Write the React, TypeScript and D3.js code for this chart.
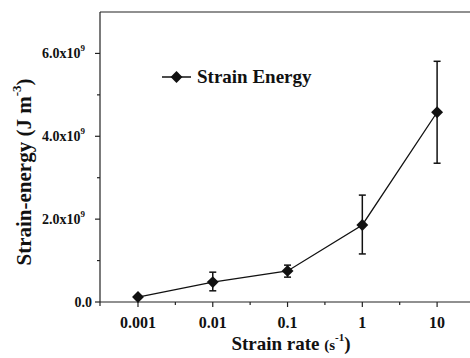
import React, { useEffect, useRef } from 'react';
import * as d3 from 'd3';

const rates = [0.001, 0.01, 0.1, 1, 10];
const energy = [0.12e9, 0.48e9, 0.75e9, 1.86e9, 4.58e9];
const errLow = [0.12e9, 0.27e9, 0.6e9, 1.16e9, 3.35e9];
const errHigh = [0.12e9, 0.72e9, 0.89e9, 2.58e9, 5.81e9];
const xTickLabels = ['0.001', '0.01', '0.1', '1', '10'];
const xMinorTicks = [0.00316, 0.0316, 0.316, 3.16];
const yMajorTicks = [0, 2e9, 4e9, 6e9];
const yMinorTicks = [1e9, 3e9, 5e9];

const FONT = 'Liberation Serif';

export default function App() {
  const svgRef = useRef<SVGSVGElement>(null);

  useEffect(() => {
    const svg = d3.select(svgRef.current);
    svg.selectAll('*').remove();

    const width = 470;
    const height = 358;
    const margin = { top: 12, right: 0, bottom: 56, left: 100 };

    const x = d3.scaleLog()
      .domain([Math.pow(10, -3.508), Math.pow(10, 1.44)])
      .range([margin.left, width - margin.right]);
    const y = d3.scaleLinear()
      .domain([0, 7e9])
      .range([height - margin.bottom, margin.top]);

    const g = svg.append('g');

    const txt = (sel: any, size: number) =>
      sel.attr('font-family', FONT).attr('font-weight', 'bold')
        .attr('font-size', size).attr('fill', '#111');

    // frame: left spine, top line, bottom axis
    g.append('line')
      .attr('x1', margin.left).attr('x2', margin.left)
      .attr('y1', margin.top).attr('y2', y(0) + 4)
      .attr('stroke', '#222').attr('stroke-width', 1.2);
    g.append('line')
      .attr('x1', margin.left).attr('x2', width)
      .attr('y1', margin.top).attr('y2', margin.top)
      .attr('stroke', '#222').attr('stroke-width', 1.2);
    g.append('line')
      .attr('x1', margin.left).attr('x2', width)
      .attr('y1', y(0)).attr('y2', y(0))
      .attr('stroke', '#222').attr('stroke-width', 1.2);

    // x ticks
    rates.forEach((r, i) => {
      g.append('line')
        .attr('x1', x(r)).attr('x2', x(r))
        .attr('y1', y(0)).attr('y2', y(0) + 5)
        .attr('stroke', '#222').attr('stroke-width', 1.2);
      txt(g.append('text'), 16)
        .attr('x', x(r)).attr('y', y(0) + 26)
        .attr('text-anchor', 'middle')
        .text(xTickLabels[i]);
    });
    xMinorTicks.forEach(r => {
      g.append('line')
        .attr('x1', x(r)).attr('x2', x(r))
        .attr('y1', y(0)).attr('y2', y(0) + 3)
        .attr('stroke', '#222').attr('stroke-width', 1.2);
    });

    // y ticks
    yMajorTicks.forEach(v => {
      g.append('line')
        .attr('x1', margin.left - 5).attr('x2', margin.left)
        .attr('y1', y(v)).attr('y2', y(v))
        .attr('stroke', '#222').attr('stroke-width', 1.2);
      const t = txt(g.append('text'), 14)
        .attr('x', margin.left - 15).attr('y', y(v) + 5)
        .attr('text-anchor', 'end');
      if (v === 0) {
        t.attr('x', margin.left - 8).text('0.0');
      } else {
        t.append('tspan').text(`${(v / 1e9).toFixed(1)}x10`);
        t.append('tspan').attr('dy', -7).attr('font-size', 9).text('9');
      }
    });
    yMinorTicks.forEach(v => {
      g.append('line')
        .attr('x1', margin.left - 3).attr('x2', margin.left)
        .attr('y1', y(v)).attr('y2', y(v))
        .attr('stroke', '#222').attr('stroke-width', 1.2);
    });

    // axis titles
    const yt = txt(g.append('text'), 21)
      .attr('transform', `translate(31, 172) rotate(-90)`)
      .attr('text-anchor', 'middle');
    yt.append('tspan').text('Strain-energy (J m');
    yt.append('tspan').attr('dy', -10).attr('font-size', 13).text('-3');
    yt.append('tspan').attr('dy', 10).text(')');

    const xt = txt(g.append('text'), 19)
      .attr('x', 291).attr('y', 350)
      .attr('text-anchor', 'middle');
    xt.append('tspan').text('Strain rate ');
    xt.append('tspan').attr('font-size', 15).text('(s');
    xt.append('tspan').attr('dy', -9).attr('font-size', 11).text('-1');
    xt.append('tspan').attr('dy', 9).text(')');

    // line
    const line = d3.line<number>()
      .x((_, i) => x(rates[i]))
      .y(d => y(d));
    g.append('path')
      .datum(energy)
      .attr('d', line)
      .attr('fill', 'none')
      .attr('stroke', '#111')
      .attr('stroke-width', 1.3);

    // error bars
    rates.forEach((r, i) => {
      if (errHigh[i] - errLow[i] < 0.05e9) return;
      const cx = x(r);
      g.append('line')
        .attr('x1', cx).attr('x2', cx)
        .attr('y1', y(errLow[i])).attr('y2', y(errHigh[i]))
        .attr('stroke', '#111').attr('stroke-width', 1.5);
      [errLow[i], errHigh[i]].forEach(v => {
        g.append('line')
          .attr('x1', cx - 3.5).attr('x2', cx + 3.5)
          .attr('y1', y(v)).attr('y2', y(v))
          .attr('stroke', '#111').attr('stroke-width', 1.5);
      });
    });

    // markers
    const diamond = d3.symbol().type(d3.symbolDiamond2).size(90);
    rates.forEach((r, i) => {
      g.append('path')
        .attr('d', diamond)
        .attr('transform', `translate(${x(r)},${y(energy[i])})`)
        .attr('fill', '#111');
    });

    // legend
    const lg = g.append('g').attr('transform', 'translate(162, 77)');
    lg.append('line')
      .attr('x1', 0).attr('x2', 29)
      .attr('stroke', '#111').attr('stroke-width', 1.5);
    lg.append('path')
      .attr('d', diamond)
      .attr('transform', 'translate(14.5,0)')
      .attr('fill', '#111');
    txt(lg.append('text'), 19)
      .attr('x', 35).attr('y', 6)
      .text('Strain Energy');
  }, []);

  return (
    <div style={{ position: 'absolute', left: 0, top: 0, width: 470, height: 358, background: '#fff' }}>
      <svg ref={svgRef} width={470} height={358}></svg>
    </div>
  );
}
